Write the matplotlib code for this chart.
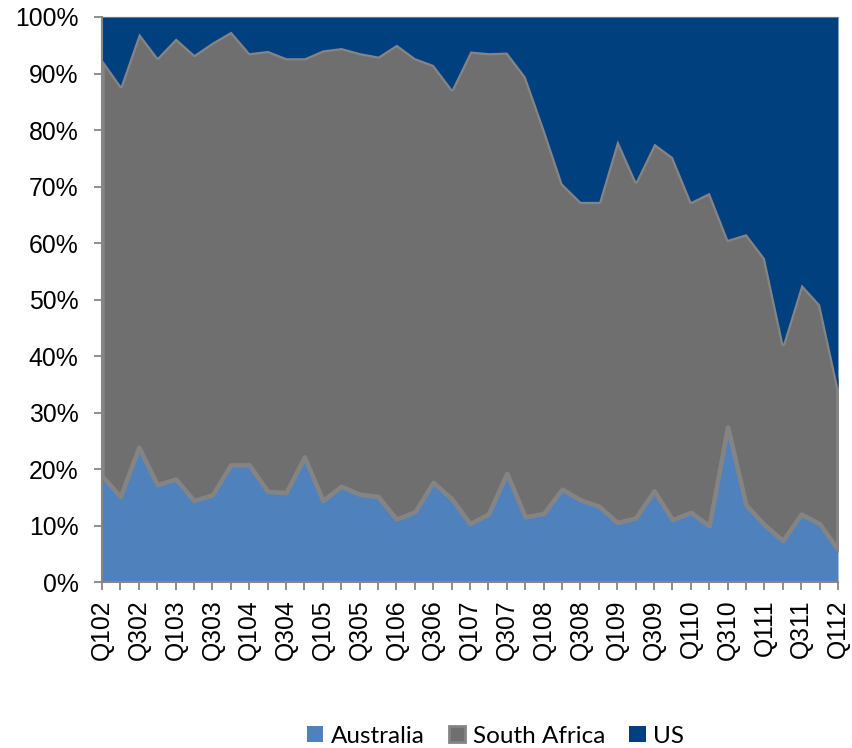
import numpy as np
import matplotlib
matplotlib.use('Agg')
import matplotlib.pyplot as plt
from matplotlib.patches import Patch

# shares in %, Q1 2002 .. Q1 2012
australia = [18.8, 15.2, 23.9, 17.3, 18.3, 14.5, 15.5, 20.8, 20.8, 16.1,
             15.9, 22.2, 14.5, 17.0, 15.6, 15.2, 11.2, 12.5, 17.7, 14.8,
             10.4, 12.1, 19.3, 11.6, 12.2, 16.5, 14.6, 13.5, 10.6, 11.4,
             16.2, 11.1, 12.4, 10.0, 27.5, 13.7, 10.2, 7.4, 12.1, 10.4, 5.8]
south_africa = [73.7, 72.7, 73.3, 75.6, 78.0, 78.9, 80.1, 76.7, 72.9, 78.0,
                76.9, 70.6, 79.7, 77.6, 78.1, 77.9, 84.0, 80.3, 73.9, 72.5,
                83.6, 81.6, 74.5, 77.9, 68.1, 54.1, 52.8, 53.9, 67.7, 59.6,
                61.5, 64.2, 55.0, 59.0, 33.2, 48.0, 47.2, 34.9, 40.7, 38.8, 28.5]
us = [7.5, 12.1, 2.8, 7.1, 3.7, 6.6, 4.4, 2.5, 6.3, 5.9,
      7.2, 7.2, 5.8, 5.4, 6.3, 6.9, 4.8, 7.2, 8.4, 12.7,
      6.0, 6.3, 6.2, 10.5, 19.7, 29.4, 32.6, 32.6, 21.7, 29.0,
      22.3, 24.7, 32.6, 31.0, 39.3, 38.3, 42.6, 57.7, 47.2, 50.8, 65.7]

quarters = ['Q%d%02d' % (q, y) for y in range(2, 13) for q in range(1, 5)][:41]

c_au = '#4f81bd'
c_sa = '#6f6f6f'
c_sa_edge = '#848484'
c_us = '#00407f'

x = np.arange(len(quarters))
au = np.array(australia)
sa = au + np.array(south_africa)
tot = sa + np.array(us)

fig = plt.figure(figsize=(8.53, 7.48), dpi=100)
ax = fig.add_axes([0.1196, 0.2213, 0.8628, 0.756])

ax.fill_between(x, 0, au, color=c_au, lw=0, zorder=1)
ax.fill_between(x, au, sa, facecolor=c_sa, edgecolor=c_sa_edge, lw=3.3, zorder=2)
ax.fill_between(x, sa, tot, color=c_us, lw=0, zorder=3)

ax.set_xlim(0, len(quarters) - 1)
ax.set_ylim(0, 100)
ax.set_yticks(np.arange(0, 101, 10))
ax.set_yticklabels(['%d%%' % v for v in range(0, 101, 10)])
ax.set_xticks(x)
ax.set_xticklabels([q if i % 2 == 0 else '' for i, q in enumerate(quarters)], rotation=90)

for lab in ax.get_xticklabels() + ax.get_yticklabels():
    lab.set_family('Liberation Sans')
    lab.set_fontsize(17.8)
    lab.set_color('black')

ax.tick_params(axis='y', length=6, width=1.3, color='#868686', pad=11)
ax.tick_params(axis='x', length=6, width=1.3, color='#868686', pad=6)
for s in ['left', 'bottom']:
    ax.spines[s].set_color('#868686')
    ax.spines[s].set_linewidth(1.5)
    ax.spines[s].set_zorder(5)
ax.spines['top'].set_color('#c0c0c0')
ax.spines['top'].set_linewidth(1)
ax.spines['right'].set_visible(False)

handles = [Patch(facecolor=c_au, edgecolor=c_au, lw=0),
           Patch(facecolor=c_sa, edgecolor=c_sa_edge, lw=2),
           Patch(facecolor=c_us, edgecolor=c_us, lw=0)]
fig.legend(handles, ['Australia', 'South Africa', 'US'], loc='center',
           bbox_to_anchor=(0.581, 0.016), ncol=3, frameon=False,
           prop={'family': 'Lato', 'size': 17.5}, handlelength=0.68,
           handleheight=0.68, handletextpad=0.3, columnspacing=1.0,
           borderaxespad=0, borderpad=0)

fig.savefig('out.png', dpi=100)
